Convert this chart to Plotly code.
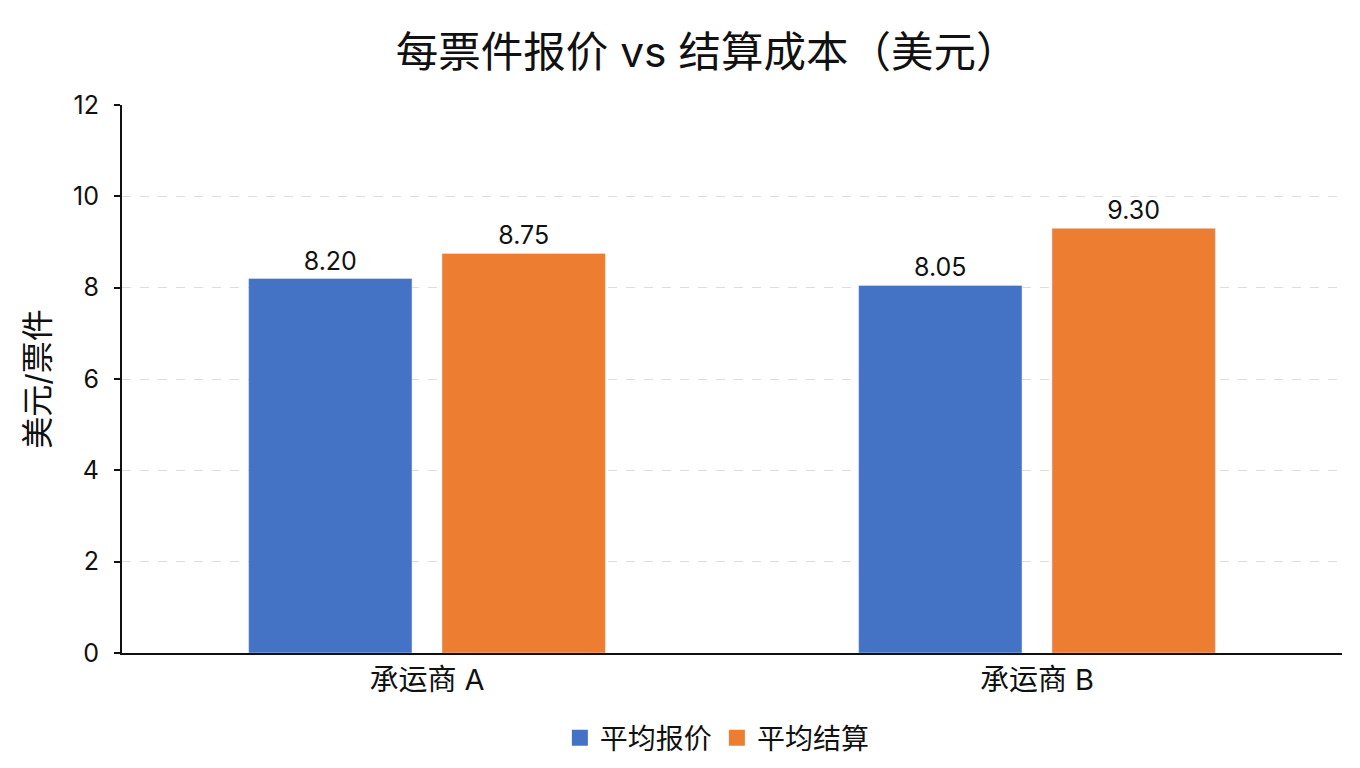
import plotly.graph_objects as go

carriers = ["承运商 A", "承运商 B"]
avg_quote = [8.20, 8.05]
avg_settle = [8.75, 9.30]
series = [("平均报价", avg_quote, "#4472C4"), ("平均结算", avg_settle, "#ED7D31")]
font = "Inter, Noto Sans CJK SC, sans-serif"

fig = go.Figure()
for name, vals, color in series:
    fig.add_trace(go.Bar(x=carriers, y=vals, name=name, marker_color=color, showlegend=False,
                         text=[f"{v:.2f}" for v in vals], textposition="outside",
                         textfont=dict(size=25, color="#111111"), cliponaxis=False))
# larger square swatches for the legend
for name, vals, color in series:
    fig.add_trace(go.Scatter(x=[None], y=[None], mode="markers", name=name,
                             marker=dict(symbol="square", size=20, color=color)))

# page body has an 8px margin, so margins are shifted to line up with the reference
fig.update_layout(
    width=1360, height=768,
    font=dict(family=font, color="#111111"),
    title=dict(text="每票件报价 vs 结算成本（美元）", x=0.514, xanchor="center",
               y=0.942, yanchor="middle", font=dict(size=42.5, color="#111111")),
    plot_bgcolor="white", paper_bgcolor="white",
    margin=dict(l=114, r=26, t=97, b=123),
    barmode="group", bargap=0.366, bargroupgap=0.155,
    legend=dict(orientation="h", x=0.488, xanchor="center", y=-0.155, yanchor="middle",
                font=dict(size=28), itemsizing="trace"),
    xaxis=dict(showline=True, linecolor="#111111", linewidth=2, ticks="",
               tickfont=dict(size=29)),
    yaxis=dict(range=[0, 12], dtick=2, showline=True, linecolor="#111111", linewidth=2,
               ticks="outside", ticklen=6, tickwidth=2, tickcolor="#111111",
               tickfont=dict(size=25), ticklabelstandoff=10,
               showgrid=True, gridcolor="#dddddd", griddash="dash",
               title=dict(text="美元/票件", font=dict(size=32), standoff=14), zeroline=False),
)

fig.write_html("out.html")
